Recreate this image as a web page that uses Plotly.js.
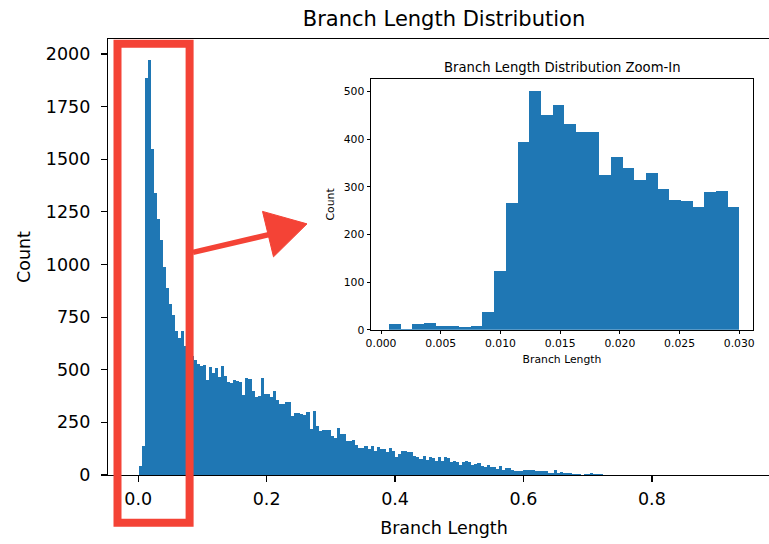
<!DOCTYPE html>
<html>
<head>
<meta charset="utf-8">
<script src="https://cdn.plot.ly/plotly-3.0.1.min.js"></script>
<style>
  html, body { margin: 0; padding: 0; overflow: hidden; background: #fff; }
  #chart { width: 790px; height: 544px; }
</style>
</head>
<body>
<div id="chart"></div>
<script>
// Full distribution: 200 equal-width bins starting at the smallest branch length
const mainBinStart = 0.0005;
const mainBinWidth = 0.004755;
const mainCounts = [
  44, 136, 1884, 1971, 1547, 1338, 1215, 1114, 987, 887,
  813, 759, 682, 650, 682, 611, 590, 565, 547, 528,
  516, 522, 452, 513, 484, 508, 465, 519, 468, 444,
  437, 451, 448, 444, 378, 460, 457, 400, 370, 376,
  460, 386, 384, 370, 397, 355, 338, 338, 347, 347,
  278, 294, 294, 290, 286, 297, 218, 302, 234, 207,
  215, 215, 216, 187, 176, 223, 196, 196, 160, 160,
  168, 144, 128, 128, 139, 123, 139, 112, 133, 123,
  123, 107, 128, 112, 85, 101, 115, 115, 107, 107,
  92, 85, 76, 88, 71, 85, 81, 65, 85, 65,
  85, 81, 60, 68, 63, 49, 62, 68, 63, 49,
  54, 57, 42, 40, 46, 36, 36, 28, 44, 25,
  33, 33, 25, 20, 20, 20, 22, 24, 24, 24,
  20, 17, 17, 17, 9, 9, 22, 9, 14, 8,
  9, 9, 6, 5, 5, 1, 5, 3, 8, 6,
  7, 4, 2, 1, 0, 1, 0, 0, 1, 0,
  0, 0, 0, 1, 0, 0, 0, 0, 0, 0,
  0, 0, 0, 0, 0, 0, 0, 0, 0, 0,
  0, 0, 0, 0, 0, 0, 0, 0, 0, 0,
  0, 0, 0, 0, 0, 0, 0, 0, 0, 1
];

// Zoom-in on short branches: 30 bins from the minimum up to 0.03
const zoomBinStart = 0.00067;
const zoomBinWidth = 0.000978;
const zoomCounts = [
  13, 2, 13, 15, 8, 8, 6, 8, 38, 123,
  266, 394, 500, 450, 471, 432, 414, 415, 325, 362,
  339, 314, 328, 295, 272, 271, 258, 288, 291, 257
];

const mainTicks = [0, 0.2, 0.4, 0.6, 0.8];
const mainTickText = ['0.0', '0.2', '0.4', '0.6', '0.8'];
const countTicks = [0, 250, 500, 750, 1000, 1250, 1500, 1750, 2000];
const zoomTicks = [0, 0.005, 0.01, 0.015, 0.02, 0.025, 0.03];
const zoomTickText = ['0.000', '0.005', '0.010', '0.015', '0.020', '0.025', '0.030'];
const zoomCountTicks = [0, 100, 200, 300, 400, 500];

const binCenters = (start, width, n) => Array.from({length: n}, (_, i) => start + width * (i + 0.5));

const BLUE = '#1f77b4';
const RED = '#f44336';
const FONT = 'DejaVu Sans, Liberation Sans, sans-serif';

// plot-area geometry in pixels, used to place the callout frame and arrow
const W = 790, H = 544;
const M = {l: 108, r: 10, t: 39, b: 68.7};
const PW = W - M.l - M.r, PH = H - M.t - M.b;
const px = x => (x - M.l) / PW;
const py = y => (H - M.b - y) / PH;

const traces = [
  {
    type: 'bar',
    x: binCenters(mainBinStart, mainBinWidth, mainCounts.length),
    y: mainCounts,
    width: mainBinWidth,
    marker: {color: BLUE, line: {width: 0}},
    xaxis: 'x', yaxis: 'y',
    hoverinfo: 'x+y'
  },
  {
    type: 'bar',
    x: binCenters(zoomBinStart, zoomBinWidth, zoomCounts.length),
    y: zoomCounts,
    width: zoomBinWidth,
    marker: {color: BLUE, line: {width: 0}},
    xaxis: 'x2', yaxis: 'y2',
    hoverinfo: 'x+y'
  }
];

const axisBase = {
  showline: true, linecolor: '#000', linewidth: 1.2, mirror: true,
  showgrid: false, zeroline: false,
  ticks: 'outside', tickcolor: '#000', tickwidth: 1.2,
  fixedrange: true
};

const arrowTip = [307, 224];
const arrowBaseA = [262.5, 211.5];
const arrowBaseB = [273.5, 257];

const insetFont = {size: 10.8, family: FONT, color: '#000'};

const layout = {
  width: W, height: H,
  margin: M,
  paper_bgcolor: '#fff', plot_bgcolor: 'rgba(0,0,0,0)',
  showlegend: false,
  bargap: 0,
  font: {family: FONT, color: '#000'},
  title: {
    text: 'Branch Length Distribution',
    font: {size: 21, family: FONT, color: '#000'},
    xref: 'paper', x: 0.5, xanchor: 'center',
    yref: 'container', y: 1 - 19 / H, yanchor: 'middle'
  },
  xaxis: Object.assign({}, axisBase, {
    domain: [0, 1], anchor: 'y',
    range: [-0.0471, 0.9995],
    tickvals: mainTicks, ticktext: mainTickText,
    ticklen: 6, ticklabelstandoff: 2,
    tickfont: {size: 17.5, family: FONT, color: '#000'},
    title: {text: 'Branch Length', font: {size: 17.5, family: FONT, color: '#000'}, standoff: 13}
  }),
  yaxis: Object.assign({}, axisBase, {
    domain: [0, 1], anchor: 'x',
    range: [0, 2071],
    tickvals: countTicks,
    ticklen: 6, ticklabelstandoff: 7,
    tickfont: {size: 17.5, family: FONT, color: '#000'},
    title: {text: 'Count', font: {size: 17.5, family: FONT, color: '#000'}, standoff: 10}
  }),
  xaxis2: Object.assign({}, axisBase, {
    domain: [px(371), px(753)], anchor: 'y2',
    range: [-0.00084, 0.03115],
    tickvals: zoomTicks, ticktext: zoomTickText,
    ticklen: 3.5, linewidth: 1, tickwidth: 1,
    tickfont: insetFont,
    title: {text: 'Branch Length', font: insetFont, standoff: 6}
  }),
  yaxis2: Object.assign({}, axisBase, {
    domain: [py(330), py(79)], anchor: 'x2',
    range: [0, 526],
    tickvals: zoomCountTicks,
    ticklen: 3.5, linewidth: 1, tickwidth: 1,
    tickfont: insetFont,
    title: {text: 'Count', font: insetFont, standoff: 6}
  }),
  annotations: [
    {
      text: 'Branch Length Distribution Zoom-In',
      xref: 'paper', yref: 'paper',
      x: px(562), y: py(68), xanchor: 'center', yanchor: 'middle',
      showarrow: false,
      font: {size: 13.2, family: FONT, color: '#000'}
    }
  ],
  shapes: [
    // callout frame around the short-branch peak
    {
      type: 'rect', xref: 'paper', yref: 'paper', layer: 'above',
      x0: px(117.5), x1: px(189.6), y0: py(523), y1: py(43.7),
      line: {color: RED, width: 8}, fillcolor: 'rgba(0,0,0,0)'
    },
    // arrow shaft
    {
      type: 'line', xref: 'paper', yref: 'paper', layer: 'above',
      x0: px(193), y0: py(252.5), x1: px(272), y1: py(234),
      line: {color: RED, width: 5.5}
    },
    // arrow head
    {
      type: 'path', xref: 'paper', yref: 'paper', layer: 'above',
      path: 'M ' + px(arrowTip[0]) + ' ' + py(arrowTip[1]) +
            ' L ' + px(arrowBaseA[0]) + ' ' + py(arrowBaseA[1]) +
            ' L ' + px(arrowBaseB[0]) + ' ' + py(arrowBaseB[1]) + ' Z',
      fillcolor: RED, line: {color: RED, width: 1}
    }
  ]
};

Plotly.newPlot('chart', traces, layout, {displayModeBar: false, staticPlot: true});
</script>
</body>
</html>
